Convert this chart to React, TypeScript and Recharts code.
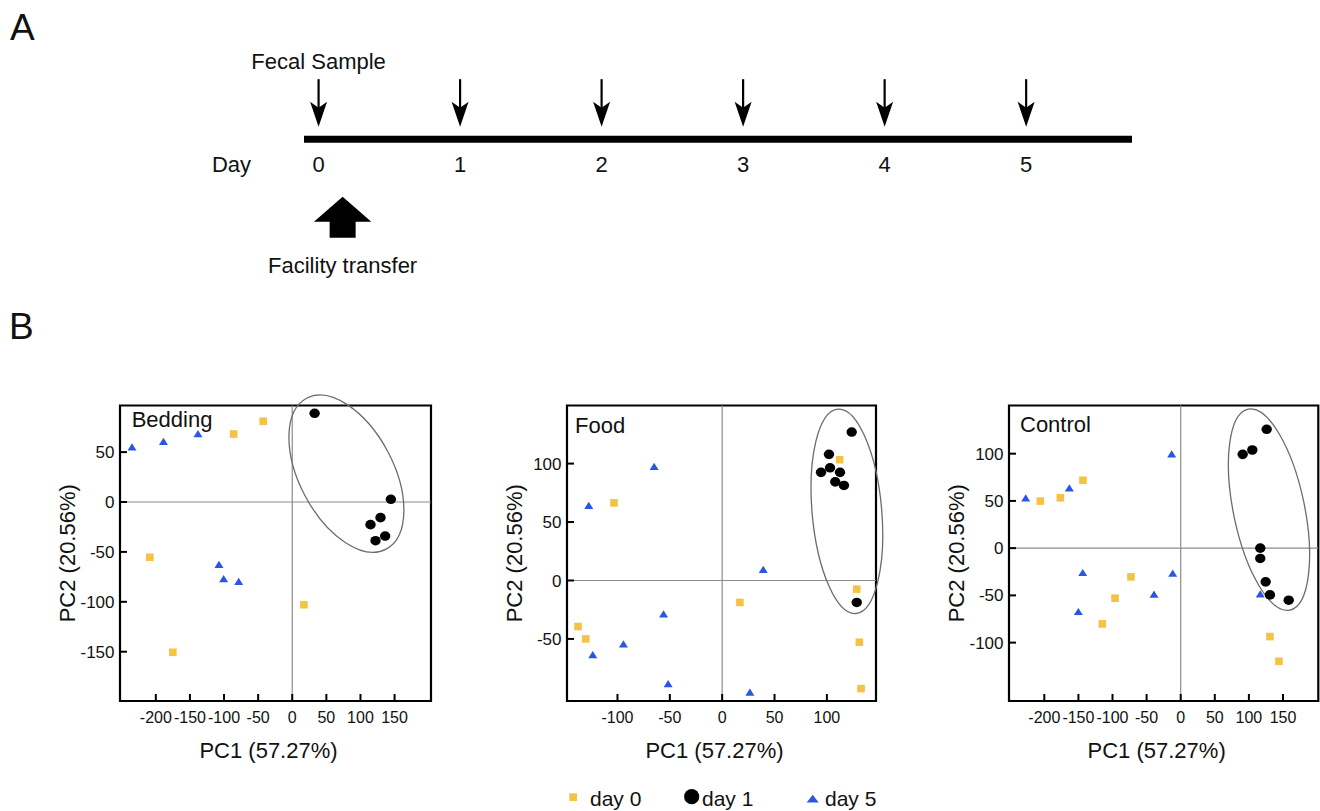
import React from 'react';
import { ScatterChart, Scatter, XAxis, YAxis, ReferenceLine, ReferenceArea, Label } from 'recharts';

const FONT = '"Liberation Sans", Arial, Helvetica, sans-serif';
const YELLOW = '#F5C343';
const BLUE = '#2A55E5';
const BLACK = '#000000';

// ---------- Panel A: timeline ----------
const timelineDays = [0, 1, 2, 3, 4, 5];
const sampleDays = [0, 1, 2, 3, 4, 5];
const sampleLabel = 'Fecal Sample';
const transferDay = 0.17;
const transferLabel = 'Facility transfer';

// ---------- Panel B: PCA (PC1, PC2) ----------
const seriesNames = ['day 0', 'day 1', 'day 5'];
const pcLabelX = 'PC1 (57.27%)';
const pcLabelY = 'PC2 (20.56%)';

// Bedding
const beddingDay0 = [[-42.6, 80.9], [-85.9, 68.1], [-208.8, -55.4], [-175, -150.6], [17.1, -102.9]];
const beddingDay1 = [[32.8, 88.9], [144.6, 2.7], [129.4, -15.7], [114.7, -22.7], [136.2, -34.1], [122.1, -38.8]];
const beddingDay5 = [[-234.9, 54.8], [-188.8, 60.4], [-138.2, 68.1], [-107.4, -62.8], [-100.6, -77.2], [-78.5, -79.9]];
const beddingXTicks = [-200, -150, -100, -50, 0, 50, 100, 150];
const beddingYTicks = [-150, -100, -50, 0, 50];
const beddingEllipseCenter = [79.4, 28.4];

// Food
const foodDay0 = [[112.2, 103.3], [-103.3, 66.4], [16.9, -18.8], [128.5, -7.4], [-137.7, -39.4], [-130.3, -50], [131, -52.8], [132.6, -92.5]];
const foodDay1 = [[123.7, 127], [102, 107.9], [103, 96.4], [94.4, 92.5], [112.5, 92.5], [108, 84.4], [116.3, 81.3], [128.5, -18.8]];
const foodDay5 = [[-65, 97.3], [-127.4, 63.9], [39.2, 9.1], [-56, -28.9], [-94.3, -54.5], [-123.6, -63.7], [-51.6, -88.5], [26.5, -95.9]];
const foodXTicks = [-100, -50, 0, 50, 100];
const foodYTicks = [-50, 0, 50, 100];
const foodEllipseCenter = [119.1, 59.2];

// Control
const controlDay0 = [[-143.3, 71.8], [-205.9, 49.8], [-176.5, 53.3], [-72.9, -30.4], [-96.3, -53], [-115, -80.2], [130.9, -93.6], [144.1, -119.8]];
const controlDay1 = [[126.1, 125.8], [90.9, 99.3], [105, 103.9], [116.7, 0], [116.7, -10.9], [124.6, -35.7], [130.9, -49.5], [158.4, -55.1]];
const controlDay5 = [[-13.2, 99.3], [-227.3, 52.7], [-163.3, 63.3], [-143.7, -26.2], [-11.7, -26.8], [-150.1, -67.5], [-39.1, -49.1], [116.7, -48.8]];
const controlXTicks = [-200, -150, -100, -50, 0, 50, 100, 150];
const controlYTicks = [-100, -50, 0, 50, 100];
const controlEllipseCenter = [129.5, 40.8];

const toPts = (arr: number[][]) => arr.map(([x, y]) => ({ x, y }));

// ---------- ticks: labels outside, short tick marks pointing inside ----------
const X_TICK_MARGIN = 10.8;
const Y_TICK_MARGIN = 5.5;
const XTick = (props: any) => {
  const { x, y, payload } = props;
  const xx = Number(x);
  const axisY = Number(y) - X_TICK_MARGIN;
  return (
    <g>
      <path d={`M${xx},${axisY} L${xx},${axisY - 7}`} stroke="#000" strokeWidth={2} fill="none" />
      <text x={xx} y={Number(y)} dy="0.71em" textAnchor="middle" fontSize={16} fill="#111">{payload.value}</text>
    </g>
  );
};
const YTick = (props: any) => {
  const { x, y, payload } = props;
  const yy = Number(y);
  const axisX = Number(x) + Y_TICK_MARGIN;
  return (
    <g>
      <path d={`M${axisX},${yy} L${axisX + 7},${yy}`} stroke="#000" strokeWidth={2} fill="none" />
      <text x={Number(x)} y={yy} dy="0.355em" textAnchor="end" fontSize={17} fill="#111">{payload.value}</text>
    </g>
  );
};

// ---------- shapes ----------
const SampleArrow = (props: any) => {
  const { cx, cy, index } = props;
  const tip = cy - 12.5;
  const top = cy - 60;
  return (
    <g>
      <line x1={cx} y1={top} x2={cx} y2={tip - 18} stroke="#000" strokeWidth={2.2} />
      <path d={`M${cx - 8.5},${tip - 25} L${cx},${tip - 19} L${cx + 8.5},${tip - 25} L${cx},${tip} Z`} fill="#000" />
      {index === 0 ? (
        <text x={cx} y={cy - 70} textAnchor="middle" fontSize={22} fill="#111">{sampleLabel}</text>
      ) : null}
    </g>
  );
};

const TransferArrow = (props: any) => {
  const { cx, cy } = props;
  const t = cy + 57.5;
  const b = cy + 82.5;
  const e = cy + 98.5;
  return (
    <g>
      <path
        d={`M${cx},${t} L${cx + 28.7},${b} L${cx + 13},${b} L${cx + 13},${e} L${cx - 13},${e} L${cx - 13},${b} L${cx - 28.7},${b} Z`}
        fill="#000"
      />
      <text x={cx} y={cy + 133.3} textAnchor="middle" fontSize={22} fill="#111">{transferLabel}</text>
    </g>
  );
};

const SquareShape = (props: any) => {
  const { cx, cy } = props;
  return <rect x={cx - 3.8} y={cy - 3.8} width={7.6} height={7.6} fill={YELLOW} />;
};
const CircleShape = (props: any) => {
  const { cx, cy } = props;
  return <ellipse cx={cx} cy={cy} rx={5.2} ry={4.8} fill={BLACK} />;
};
const TriangleShape = (props: any) => {
  const { cx, cy } = props;
  return <path d={`M${cx},${cy - 4} L${cx + 4.5},${cy + 3.2} L${cx - 4.5},${cy + 3.2} Z`} fill={BLUE} />;
};
const makeEllipse = (rx: number, ry: number, angle: number) => (props: any) => {
  const { cx, cy } = props;
  return (
    <ellipse cx={cx} cy={cy} rx={rx} ry={ry} transform={`rotate(${angle} ${cx} ${cy})`} fill="none" stroke="#6c6c6c" strokeWidth={1.3} />
  );
};

const panels = [
  {
    title: 'Bedding', left: 0, width: 460, ml: 14, mr: 29,
    xDomain: [-252.5, 203.4], yDomain: [-199.4, 96.7], xTicks: beddingXTicks, yTicks: beddingYTicks,
    day0: beddingDay0, day1: beddingDay1, day5: beddingDay5, center: beddingEllipseCenter,
    ell: [85.3, 46.9, 62.2], tdx: 11.7, tdy: 6.2,
  },
  {
    title: 'Food', left: 440, width: 460, ml: 21, mr: 24,
    xDomain: [-148.2, 146.9], yDomain: [-103.1, 149.7], xTicks: foodXTicks, yTicks: foodYTicks,
    day0: foodDay0, day1: foodDay1, day5: foodDay5, center: foodEllipseCenter,
    ell: [102.6, 34.8, 84.9], tdx: 8, tdy: 12.2,
  },
  {
    title: 'Control', left: 880, width: 440, ml: 23, mr: 1.7,
    xDomain: [-251.8, 201.8], yDomain: [-161.8, 151], xTicks: controlXTicks, yTicks: controlYTicks,
    day0: controlDay0, day1: controlDay1, day5: controlDay5, center: controlEllipseCenter,
    ell: [102.6, 35.6, 78.3], tdx: 11, tdy: 10.6,
  },
];

function PcaPanel({ p }: { p: any }) {
  return (
    <div style={{ position: 'absolute', left: p.left, top: 380 }}>
      <ScatterChart width={p.width} height={419} margin={{ top: 25.5, right: p.mr, bottom: 0, left: p.ml }}>
        <XAxis type="number" dataKey="x" domain={p.xDomain} ticks={p.xTicks} interval={0} axisLine={false} tickLine={false}
          tickSize={0} tickMargin={X_TICK_MARGIN} tick={XTick} height={98}>
          <Label value={pcLabelX} position="center" dx={-7} fontSize={22} fill="#111" />
        </XAxis>
        <YAxis type="number" dataKey="y" domain={p.yDomain} ticks={p.yTicks} interval={0} axisLine={false} tickLine={false}
          tickSize={0} tickMargin={Y_TICK_MARGIN} tick={YTick} width={106}>
          <Label value={pcLabelY} position="center" angle={-90} fontSize={22} fill="#111" />
        </YAxis>
        <ReferenceLine x={0} stroke="#8c8c8c" strokeWidth={1.2} />
        <ReferenceLine y={0} stroke="#8c8c8c" strokeWidth={1.2} />
        <ReferenceArea x1={p.xDomain[0]} x2={p.xDomain[1]} y1={p.yDomain[0]} y2={p.yDomain[1]} fill="none" stroke="#000" strokeWidth={2.2}>
          <Label value={p.title} position="insideTopLeft" offset={0} dx={p.tdx} dy={p.tdy} fontSize={22} fill="#111" />
        </ReferenceArea>
        <Scatter name="ellipse" data={toPts([p.center])} dataKey="y" shape={makeEllipse(p.ell[0], p.ell[1], p.ell[2])} isAnimationActive={false} />
        <Scatter name={seriesNames[1]} data={toPts(p.day1)} dataKey="y" shape={CircleShape} isAnimationActive={false} />
        <Scatter name={seriesNames[0]} data={toPts(p.day0)} dataKey="y" shape={SquareShape} isAnimationActive={false} />
        <Scatter name={seriesNames[2]} data={toPts(p.day5)} dataKey="y" shape={TriangleShape} isAnimationActive={false} />
      </ScatterChart>
    </div>
  );
}

export default function App() {
  const samples = sampleDays.map((d) => ({ x: d, y: 0 }));
  const transfer = [{ x: transferDay, y: 0 }];
  return (
    <div style={{ position: 'absolute', left: 0, top: 0, width: 1320, height: 811, background: '#fff', fontFamily: FONT }}>
      <div style={{ position: 'absolute', left: 0, top: 0 }}>
        <ScatterChart width={1320} height={290} margin={{ top: 0, right: 188, bottom: 101.4, left: 304 }}>
          <XAxis type="number" dataKey="x" domain={[-0.103, 5.748]} ticks={timelineDays} interval={0}
            axisLine={{ stroke: '#000', strokeWidth: 7 }} tickLine={false} tickMargin={11.5}
            tick={{ fill: '#111', fontSize: 22 }} height={49.4}>
            <Label value="Day" position="left" offset={53} fontSize={22} fill="#111" />
          </XAxis>
          <YAxis type="number" dataKey="y" domain={[0, 1]} hide />
          <Scatter data={samples} dataKey="y" shape={SampleArrow} isAnimationActive={false} />
          <Scatter data={transfer} dataKey="y" shape={TransferArrow} isAnimationActive={false} />
        </ScatterChart>
      </div>

      {panels.map((p) => (
        <PcaPanel key={p.title} p={p} />
      ))}

      <svg width={1320} height={811} style={{ position: 'absolute', left: 0, top: 0, pointerEvents: 'none' }}>
        <text x={10} y={40} fontSize={37} fill="#111">A</text>
        <text x={9} y={339} fontSize={37} fill="#111">B</text>
        <rect x={569.3} y={793.3} width={7.7} height={7.7} fill={YELLOW} />
        <text x={590} y={806} fontSize={21} fill="#111">{seriesNames[0]}</text>
        <circle cx={691.7} cy={796.7} r={7.6} fill={BLACK} />
        <text x={702} y={806} fontSize={21} fill="#111">{seriesNames[1]}</text>
        <path d="M806.7,802.5 L812.7,794.8 L818.7,802.5 Z" fill={BLUE} />
        <text x={825} y={806} fontSize={21} fill="#111">{seriesNames[2]}</text>
      </svg>
    </div>
  );
}
